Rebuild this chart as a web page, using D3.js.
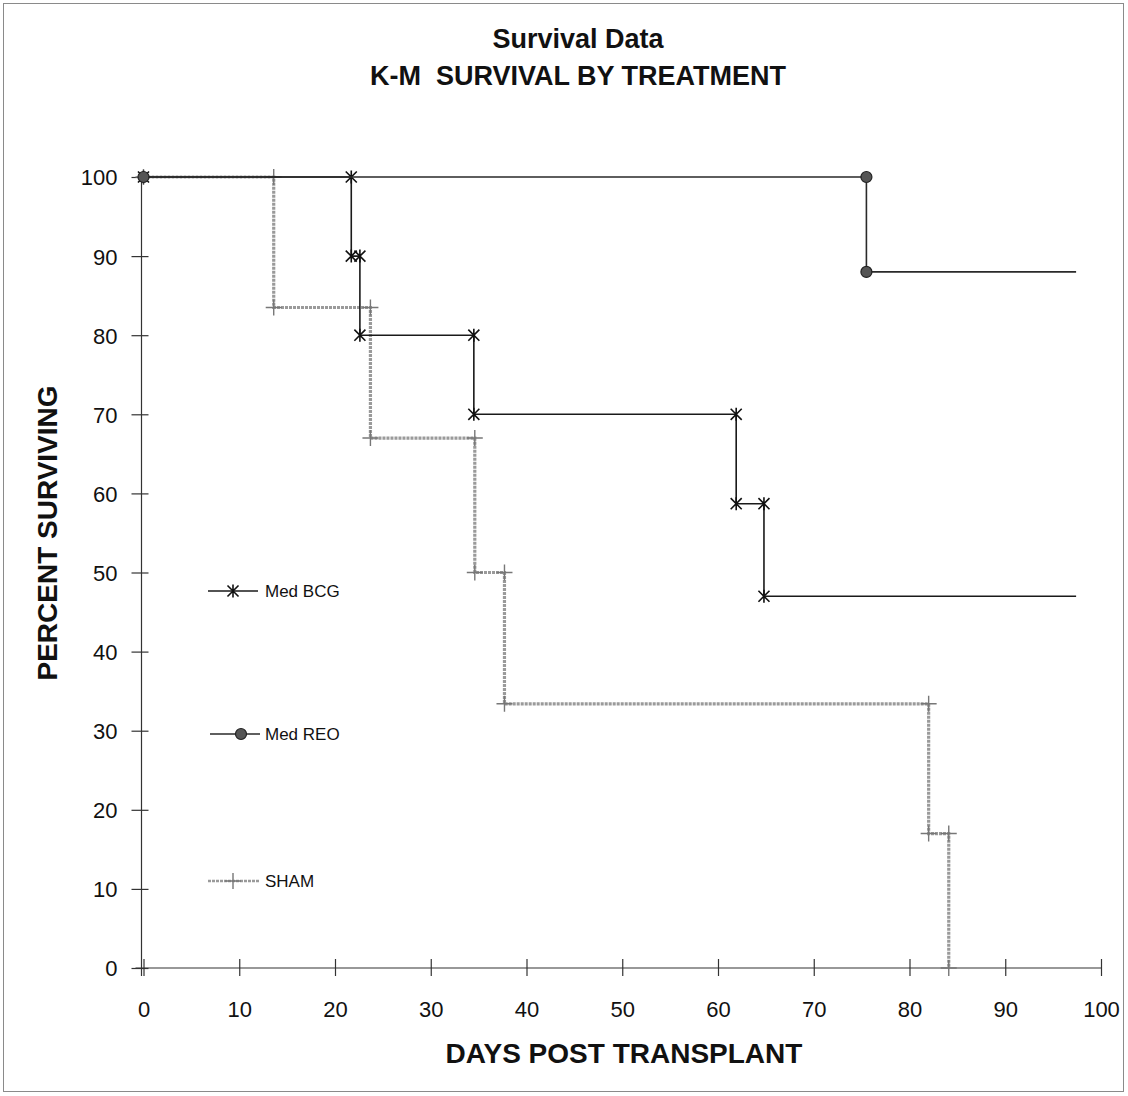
<!DOCTYPE html>
<html>
<head>
<meta charset="utf-8">
<script src="https://cdn.jsdelivr.net/npm/d3@7"></script>
<style>
  html, body { margin: 0; padding: 0; background: #fff; }
  svg { display: block; font-family: Arial, "Liberation Sans", sans-serif; }
</style>
</head>
<body>
<svg id="chart" width="1128" height="1096"></svg>
<script>
// Kaplan-Meier step points (day, percent surviving), one pair of arrays per group
const bcgDays = [0, 21.7, 21.7, 22.6, 22.6, 34.5, 34.5, 61.9, 61.9, 64.8, 64.8];
const bcgPct  = [100, 100, 90, 90, 80, 80, 70, 70, 58.7, 58.7, 47.0];
const bcgFollowUp = 97.4;

const reoDays = [0, 75.5, 75.5];
const reoPct  = [100, 100, 88.0];
const reoFollowUp = 97.4;

const shamDays = [0, 13.6, 13.6, 23.7, 23.7, 34.6, 34.6, 37.7, 37.7, 82.0, 82.0, 84.1, 84.1];
const shamPct  = [100, 100, 83.5, 83.5, 67.0, 67.0, 50.0, 50.0, 33.4, 33.4, 17.0, 17.0, 0];
const shamFollowUp = null;

const seriesNames = ["Med BCG", "Med REO", "SHAM"];
const xTicks = [0, 10, 20, 30, 40, 50, 60, 70, 80, 90, 100];
const yTicks = [0, 10, 20, 30, 40, 50, 60, 70, 80, 90, 100];

const svg = d3.select("#chart");

// outer frame
svg.append("rect")
  .attr("x", 3.5).attr("y", 3.5).attr("width", 1120).attr("height", 1088)
  .attr("fill", "none").attr("stroke", "#8a8a8a").attr("stroke-width", 1);

const x = d3.scaleLinear().domain([0, 100]).range([143.5, 1101]);
const y = d3.scaleLinear().domain([0, 100]).range([968, 177]);

// titles
svg.append("text").attr("x", 578).attr("y", 48).attr("text-anchor", "middle")
  .attr("font-size", 27).attr("font-weight", "bold").attr("fill", "#111")
  .text("Survival Data");
svg.append("text").attr("x", 578).attr("y", 85).attr("text-anchor", "middle")
  .attr("font-size", 27).attr("font-weight", "bold").attr("fill", "#111")
  .attr("xml:space", "preserve")
  .text("K-M  SURVIVAL BY TREATMENT");

// axes
const xAxis = d3.axisBottom(x).tickValues(xTicks).tickSize(0).tickPadding(0);
const gx = svg.append("g").attr("transform", `translate(0, ${y(0)})`).call(xAxis);
gx.select(".domain").attr("d", `M${x(0) - 8},0H${x(100)}`).attr("stroke", "#333").attr("stroke-width", 1.2);
gx.selectAll(".tick line").attr("y1", -9).attr("y2", 8).attr("stroke", "#333").attr("stroke-width", 1.2);
gx.selectAll(".tick text").attr("y", 49).attr("dy", 0).attr("font-size", 22).attr("fill", "#111")
  .attr("font-family", "Arial, 'Liberation Sans', sans-serif");

const yAxis = d3.axisLeft(y).tickValues(yTicks).tickSize(0).tickPadding(0);
const gy = svg.append("g").attr("transform", `translate(${x(0) - 2}, 0)`).call(yAxis);
gy.select(".domain").attr("d", `M0,${y(100)}V${y(0) + 8}`).attr("stroke", "#333").attr("stroke-width", 1.2);
gy.selectAll(".tick line").attr("x1", -10).attr("x2", 7).attr("stroke", "#333").attr("stroke-width", 1.2);
gy.selectAll(".tick text").attr("x", -24).attr("dy", "0.36em").attr("font-size", 22).attr("fill", "#111")
  .attr("font-family", "Arial, 'Liberation Sans', sans-serif");

// axis titles
svg.append("text").attr("x", 624).attr("y", 1063).attr("text-anchor", "middle")
  .attr("font-size", 28).attr("font-weight", "bold").attr("fill", "#111")
  .text("DAYS POST TRANSPLANT");
svg.append("text").attr("transform", "translate(57, 533) rotate(-90)").attr("text-anchor", "middle")
  .attr("font-size", 28).attr("font-weight", "bold").attr("fill", "#111")
  .text("PERCENT SURVIVING");

const lineGen = d3.line().x(d => x(d[0])).y(d => y(d[1]));

function pointsOf(days, pct) { return days.map((d, i) => [d, pct[i]]); }
function pathOf(days, pct, followUp) {
  const pts = pointsOf(days, pct);
  if (followUp != null) pts.push([followUp, pct[pct.length - 1]]);
  return pts;
}

// marker painters
function star(g, cx, cy, s) {
  const k = s * 0.85;
  g.append("path")
    .attr("d", `M${cx},${cy - s}V${cy + s}M${cx - k},${cy - k}L${cx + k},${cy + k}M${cx - k},${cy + k}L${cx + k},${cy - k}`)
    .attr("stroke", "#111").attr("stroke-width", 1.6).attr("fill", "none");
}
function dot(g, cx, cy, r) {
  g.append("circle").attr("cx", cx).attr("cy", cy).attr("r", r)
    .attr("fill", "#555").attr("stroke", "#222").attr("stroke-width", 1.2);
}
function plus(g, cx, cy, s) {
  g.append("path").attr("d", `M${cx - s},${cy}H${cx + s}M${cx},${cy - s}V${cy + s}`)
    .attr("stroke", "#777").attr("stroke-width", 1.4).attr("fill", "none");
}

const styles = {
  sham: { stroke: "#9a9a9a", width: 3.2, dash: "3 1" },
  bcg:  { stroke: "#1a1a1a", width: 1.6, dash: null },
  reo:  { stroke: "#2a2a2a", width: 1.6, dash: null }
};

// SHAM
const gS = svg.append("g");
gS.append("path").datum(pathOf(shamDays, shamPct, shamFollowUp)).attr("d", lineGen)
  .attr("fill", "none").attr("stroke", styles.sham.stroke).attr("stroke-width", styles.sham.width)
  .attr("stroke-dasharray", styles.sham.dash);
pointsOf(shamDays, shamPct).forEach(p => plus(gS, x(p[0]), y(p[1]), 8));

// Med BCG
const gB = svg.append("g");
gB.append("path").datum(pathOf(bcgDays, bcgPct, bcgFollowUp)).attr("d", lineGen)
  .attr("fill", "none").attr("stroke", styles.bcg.stroke).attr("stroke-width", styles.bcg.width);
pointsOf(bcgDays, bcgPct).forEach(p => star(gB, x(p[0]), y(p[1]), 6.5));

// Med REO
const gR = svg.append("g");
gR.append("path").datum(pathOf(reoDays, reoPct, reoFollowUp)).attr("d", lineGen)
  .attr("fill", "none").attr("stroke", styles.reo.stroke).attr("stroke-width", styles.reo.width);
pointsOf(reoDays, reoPct).forEach(p => dot(gR, x(p[0]), y(p[1]), 5.5));

// legend, stacked down the left side of the plot
const legendRows = [
  { name: seriesNames[0], y: 591, x1: 208, x2: 258, mx: 233, style: styles.bcg, mark: (g, cx, cy) => star(g, cx, cy, 6.5) },
  { name: seriesNames[1], y: 734, x1: 210, x2: 260, mx: 241, style: styles.reo, mark: (g, cx, cy) => dot(g, cx, cy, 5.5) },
  { name: seriesNames[2], y: 881, x1: 208, x2: 260, mx: 233, style: styles.sham, mark: (g, cx, cy) => plus(g, cx, cy, 8) }
];
const gL = svg.append("g");
legendRows.forEach(r => {
  gL.append("line").attr("x1", r.x1).attr("x2", r.x2).attr("y1", r.y).attr("y2", r.y)
    .attr("stroke", r.style.stroke).attr("stroke-width", r.style === styles.sham ? 2.6 : 1.4)
    .attr("stroke-dasharray", r.style.dash);
  r.mark(gL, r.mx, r.y);
  gL.append("text").attr("x", 265).attr("y", r.y + 6).attr("font-size", 17).attr("fill", "#111")
    .text(r.name);
});
</script>
</body>
</html>
